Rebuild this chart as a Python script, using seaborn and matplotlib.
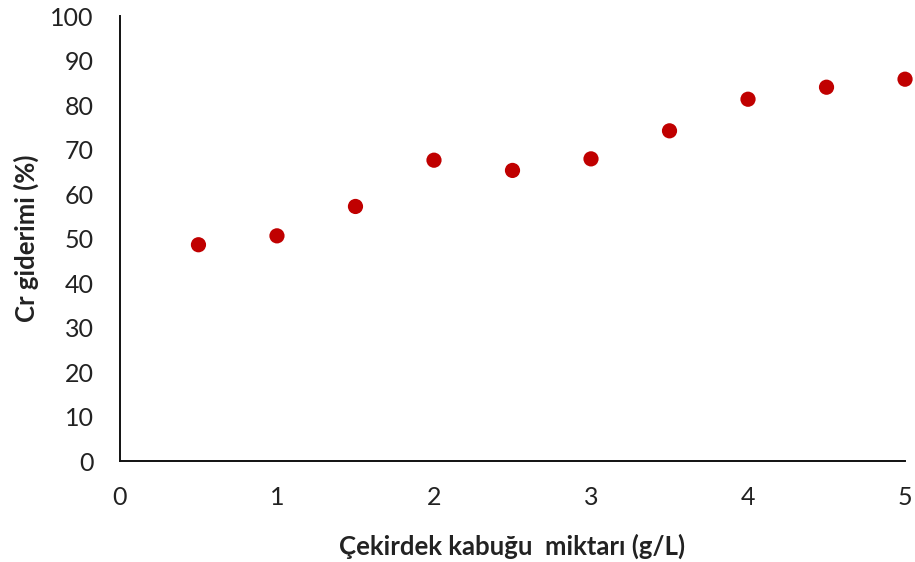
import matplotlib
matplotlib.use("Agg")
import matplotlib.pyplot as plt
import seaborn as sns
import pandas as pd

# Adsorbent dose vs. Cr removal
dose = [0.5, 1.0, 1.5, 2.0, 2.5, 3.0, 3.5, 4.0, 4.5, 5.0]
removal = [48.6, 50.6, 57.2, 67.6, 65.3, 67.9, 74.2, 81.3, 84.0, 85.8]
x_ticks = [0, 1, 2, 3, 4, 5]
y_ticks = [0, 10, 20, 30, 40, 50, 60, 70, 80, 90, 100]

sns.set_theme(style="white")
plt.rcParams["font.family"] = ["Lato", "DejaVu Sans"]

df = pd.DataFrame({"dose": dose, "removal": removal})

fig = plt.figure(figsize=(9.15, 5.62), dpi=100)
ax = fig.add_axes([0.1311, 0.1797, 0.858, 0.7918])

sns.scatterplot(data=df, x="dose", y="removal", ax=ax, color="#C00000",
                s=120, edgecolor="none", clip_on=False, zorder=3)

ax.set_xlim(0, 5)
ax.set_ylim(0, 100)
ax.set_xticks(x_ticks)
ax.set_yticks(y_ticks)
ax.set_xticklabels([str(v) for v in x_ticks])
ax.set_yticklabels([str(v) for v in y_ticks])
ax.tick_params(axis="both", length=0, labelsize=18, colors="#222222")
ax.tick_params(axis="x", pad=18)
ax.tick_params(axis="y", pad=19)

for side in ("top", "right"):
    ax.spines[side].set_visible(False)
for side in ("left", "bottom"):
    ax.spines[side].set_color("#111111")
    ax.spines[side].set_linewidth(1.4)

ax.set_xlabel("Çekirdek kabuğu  miktarı (g/L)", fontsize=18.5, fontweight="bold",
              labelpad=18, color="#222222")
ax.set_ylabel("Cr giderimi (%)", fontsize=18.5, fontweight="bold",
              labelpad=8, color="#222222")
ax.grid(False)

fig.savefig("out.png", dpi=100)
